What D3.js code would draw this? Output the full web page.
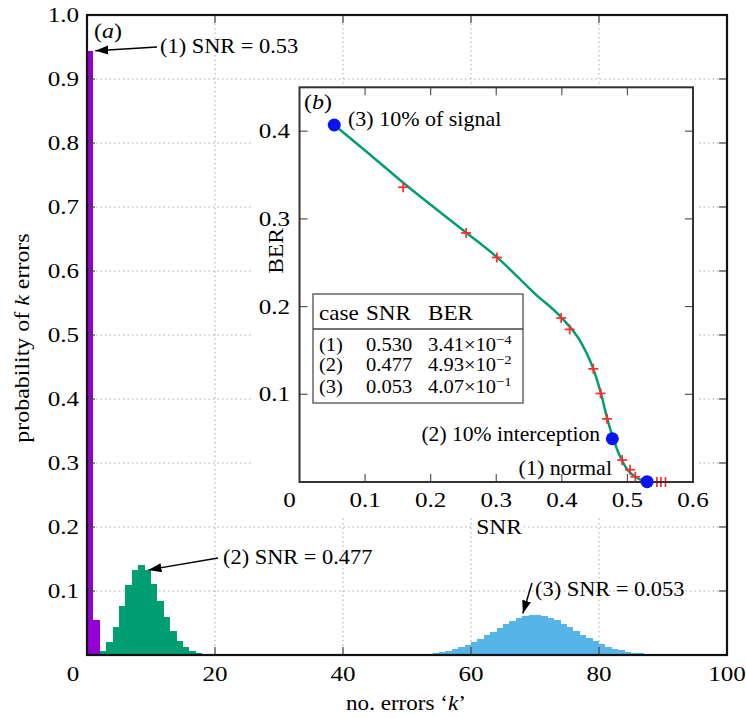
<!DOCTYPE html>
<html><head><meta charset="utf-8">
<script src="https://cdn.jsdelivr.net/npm/d3@7"></script>
<style>
body{margin:0;background:#fff;}
text{font-family:"Liberation Serif","Times New Roman",serif;fill:#000;}
</style>
</head><body>
<svg id="c" width="746" height="718"></svg>
<script>
// ---------- data ----------
const mainXTicks = [0, 20, 40, 60, 80, 100];
const mainYTicks = [0.1, 0.2, 0.3, 0.4, 0.5, 0.6, 0.7, 0.8, 0.9, 1.0];
const mainYTickLabels = ["0.1","0.2","0.3","0.4","0.5","0.6","0.7","0.8","0.9","1.0"];

const purpleK = [0, 1, 2];
const purpleP = [0.944, 0.055, 0.0016];

const greenK = [0,1,2,3,4,5,6,7,8,9,10,11,12,13,14,15,16,17,18,19,20];
const greenP = [0.0002,0.0016,0.0069,0.0201,0.0438,0.0758,0.1088,0.1330,0.1414,0.1328,0.1116,
                0.0847,0.0586,0.0371,0.0217,0.0118,0.0060,0.0028,0.0013,0.0005,0.0002];

const blueK = [48,49,50,51,52,53,54,55,56,57,58,59,60,61,62,63,64,65,66,67,68,69,
               70,71,72,73,74,75,76,77,78,79,80,81,82,83,84,85,86,87,88,89,90];
const blueP = [0.0002,0.0004,0.0006,0.0009,0.0015,0.0022,0.0033,0.0047,0.0066,0.0091,0.0122,
               0.0159,0.0203,0.0253,0.0308,0.0367,0.0425,0.0481,0.0531,0.0572,0.0602,0.0618,
               0.0620,0.0606,0.0579,0.0540,0.0491,0.0436,0.0378,0.0320,0.0264,0.0213,0.0168,
               0.0129,0.0096,0.0071,0.0050,0.0035,0.0024,0.0016,0.0010,0.0007,0.0004];

const annoText = ["(1) SNR = 0.53", "(2) SNR = 0.477", "(3) SNR = 0.053"];
const annoTipK = [1.3, 9.6, 68.1];
const annoTipP = [0.944, 0.133, 0.065];

const insetXTicks = [0, 0.1, 0.2, 0.3, 0.4, 0.5, 0.6];
const insetXTickLabels = ["0","0.1","0.2","0.3","0.4","0.5","0.6"];
const insetYTicks = [0.1, 0.2, 0.3, 0.4];
const insetYTickLabels = ["0.1","0.2","0.3","0.4"];

const lineSNR = [0.053,0.10,0.16,0.253,0.30,0.36,0.40,0.43,0.448,0.459,0.469,0.479,0.49,0.50,0.512,0.522,0.533];
const lineBER = [0.407,0.378,0.340,0.285,0.257,0.214,0.187,0.158,0.129,0.103,0.073,0.048,0.027,0.014,0.006,0.002,0.0003];

const markSNR = [0.158,0.254,0.301,0.399,0.412,0.448,0.459,0.469,0.492,0.504,0.512,0.545,0.551,0.558];
const markBER = [0.336,0.284,0.256,0.187,0.174,0.129,0.101,0.072,0.025,0.014,0.006,0,0,0];

const caseLabels = ["(1)", "(2)", "(3)"];
const caseSNR = ["0.530", "0.477", "0.053"];
const caseBERMant = ["3.41", "4.93", "4.07"];
const caseBERExp = ["\u22124", "\u22122", "\u22121"];
const caseSNRVal = [0.530, 0.477, 0.053];
const caseBERVal = [3.41e-4, 4.93e-2, 4.07e-1];
const caseDotText = ["(1) normal", "(2) 10% interception", "(3) 10% of signal"];

// ---------- colors ----------
const C_PURPLE = "#9400d3", C_GREEN = "#009e73", C_BLUE = "#56b4e9";
const FONT = "'Liberation Serif', 'Times New Roman', serif";

const svg = d3.select("#c");
svg.append("rect").attr("width", 746).attr("height", 718).attr("fill", "#fff");

const SX = 1.14;
function T(g, x, y, s, o = {}) {
  const size = o.size || 22, anchor = o.anchor || "start", rot = o.rot || 0, sx = o.sx || SX;
  const t = g.append("text")
    .attr("transform", `translate(${x},${y}) rotate(${rot}) scale(${sx},1)`)
    .attr("text-anchor", anchor)
    .attr("font-family", FONT)
    .style("font-size", size + "px");
  if (Array.isArray(s)) {
    s.forEach(p => {
      const ts = t.append("tspan").text(p.t);
      if (p.i) ts.style("font-style", "italic");
      if (p.dy) ts.attr("dy", p.dy);
      if (p.fs) ts.style("font-size", p.fs + "px");
    });
  } else t.text(s);
  return t;
}

// ---------- main scales ----------
const xM = d3.scaleLinear().domain([0, 100]).range([87, 727]);
const yM = d3.scaleLinear().domain([0, 1]).range([655, 15]);

// arrow marker
svg.append("defs").append("marker")
  .attr("id", "arr").attr("markerUnits", "userSpaceOnUse")
  .attr("markerWidth", 14).attr("markerHeight", 10)
  .attr("refX", 13).attr("refY", 4.5).attr("orient", "auto")
  .append("path").attr("d", "M0,0 L13,4.5 L0,9 Z").attr("fill", "#000");

// gridlines
const grid = svg.append("g").attr("stroke", "#a8a8a8").attr("stroke-width", 1).attr("stroke-dasharray", "1.5,3");
grid.selectAll("line.gy").data(mainYTicks.filter(v => v < 1)).join("line")
  .attr("x1", xM(0)).attr("x2", xM(100)).attr("y1", d => yM(d)).attr("y2", d => yM(d));
grid.selectAll("line.gx").data(mainXTicks.filter(v => v > 0 && v < 100)).join("line")
  .attr("y1", yM(0)).attr("y2", yM(1)).attr("x1", d => xM(d)).attr("x2", d => xM(d));

// histograms
function hist(ks, ps, color) {
  svg.append("g").attr("fill", color).attr("shape-rendering", "crispEdges")
    .selectAll("rect").data(ks.map((k, i) => [k, ps[i]])).join("rect")
    .attr("x", d => xM(d[0])).attr("width", d => xM(d[0] + 1) - xM(d[0]))
    .attr("y", d => yM(d[1])).attr("height", d => yM(0) - yM(d[1]));
}
hist(greenK, greenP, C_GREEN);
hist(blueK, blueP, C_BLUE);
hist(purpleK, purpleP, C_PURPLE);

// main ticks (inward, all sides)
const tk = svg.append("g").attr("stroke", "#444").attr("stroke-width", 1.2);
mainXTicks.filter(v => v > 0 && v < 100).forEach(v => {
  tk.append("line").attr("x1", xM(v)).attr("x2", xM(v)).attr("y1", yM(0)).attr("y2", yM(0) - 8);
  tk.append("line").attr("x1", xM(v)).attr("x2", xM(v)).attr("y1", yM(1)).attr("y2", yM(1) + 8);
});
mainYTicks.filter(v => v < 1).forEach(v => {
  tk.append("line").attr("x1", xM(0)).attr("x2", xM(0) + 8).attr("y1", yM(v)).attr("y2", yM(v));
  tk.append("line").attr("x1", xM(100)).attr("x2", xM(100) - 8).attr("y1", yM(v)).attr("y2", yM(v));
});
// frame
svg.append("rect").attr("x", xM(0)).attr("y", yM(1)).attr("width", xM(100) - xM(0)).attr("height", yM(0) - yM(1))
  .attr("fill", "none").attr("stroke", "#111").attr("stroke-width", 2.2);

// tick labels
const lab = svg.append("g");
mainXTicks.forEach(v => T(lab, xM(v) + (v === 0 ? -14 : 0), 681, String(v), { anchor: "middle" }));
mainYTicks.forEach((v, i) => T(lab, 79, yM(v) + 7, mainYTickLabels[i], { anchor: "end" }));

// axis labels
T(lab, 406, 710, [{ t: "no. errors \u2018" }, { t: "k", i: true }, { t: "\u2019" }], { anchor: "middle", size: 21, sx: 1.1 });
T(lab, 29, 338, [{ t: "probability of " }, { t: "k", i: true }, { t: " errors" }], { anchor: "middle", rot: -90, size: 21, sx: 1.14 });

// (a)
T(lab, 94, 38, [{ t: "(" }, { t: "a", i: true }, { t: ")" }], { size: 21 });

// annotations
const annoX = [160, 223, 535], annoY = [53, 564, 596];
const arrStart = [[157, 47], [218, 558], [532, 583]];
annoText.forEach((s, i) => {
  T(lab, annoX[i], annoY[i], s, { size: 20, sx: 1.12 });
  svg.append("line").attr("x1", arrStart[i][0]).attr("y1", arrStart[i][1])
    .attr("x2", xM(annoTipK[i])).attr("y2", yM(annoTipP[i]))
    .attr("stroke", "#000").attr("stroke-width", 1.5).attr("marker-end", "url(#arr)");
});

// ---------- inset ----------
const ins = svg.append("g");
ins.append("rect").attr("x", 252).attr("y", 84).attr("width", 445).attr("height", 434).attr("fill", "#fff");

const xI = d3.scaleLinear().domain([0, 0.6]).range([299.5, 693]);
const yI = d3.scaleLinear().domain([0, 0.45]).range([482, 87.3]);

const itk = ins.append("g").attr("stroke", "#555").attr("stroke-width", 1.2);
insetXTicks.filter(v => v > 0 && v < 0.6).forEach(v => {
  itk.append("line").attr("x1", xI(v)).attr("x2", xI(v)).attr("y1", yI(0)).attr("y2", yI(0) - 8);
  itk.append("line").attr("x1", xI(v)).attr("x2", xI(v)).attr("y1", yI(0.45)).attr("y2", yI(0.45) + 8);
});
insetYTicks.forEach(v => {
  itk.append("line").attr("x1", xI(0)).attr("x2", xI(0) + 8).attr("y1", yI(v)).attr("y2", yI(v));
  itk.append("line").attr("x1", xI(0.6)).attr("x2", xI(0.6) - 8).attr("y1", yI(v)).attr("y2", yI(v));
});

// table
const tb = ins.append("g");
tb.append("rect").attr("x", 313).attr("y", 294).attr("width", 210).attr("height", 109)
  .attr("fill", "#fff").attr("stroke", "#666").attr("stroke-width", 1.5);
tb.append("line").attr("x1", 313).attr("x2", 523).attr("y1", 329).attr("y2", 329)
  .attr("stroke", "#444").attr("stroke-width", 1.5);
T(tb, 319, 320, "case", { size: 21, sx: 1.1 });
T(tb, 366, 320, "SNR", { size: 21, sx: 1.1 });
T(tb, 428, 320, "BER", { size: 21, sx: 1.1 });
const rowY = [351, 371, 393];
caseLabels.forEach((c, i) => {
  T(tb, 319, rowY[i], c, { size: 18, sx: 1.14 });
  T(tb, 366, rowY[i], caseSNR[i], { size: 18, sx: 1.14 });
  T(tb, 428, rowY[i], [{ t: caseBERMant[i] + "\u00d710" }, { t: caseBERExp[i], dy: -7, fs: 13 }], { size: 18, sx: 1.14 });
});

// line
ins.append("path")
  .datum(lineSNR.map((s, i) => [s, lineBER[i]]))
  .attr("fill", "none").attr("stroke", C_GREEN).attr("stroke-width", 2.5)
  .attr("d", d3.line().x(d => xI(d[0])).y(d => yI(d[1])).curve(d3.curveMonotoneX));

// red plus markers
const mk = ins.append("g").attr("stroke", "#ff2a2a").attr("stroke-width", 1.7);
markSNR.forEach((s, i) => {
  const px = xI(s), py = yI(markBER[i]);
  mk.append("line").attr("x1", px - 5).attr("x2", px + 5).attr("y1", py).attr("y2", py);
  mk.append("line").attr("x1", px).attr("x2", px).attr("y1", py - 5).attr("y2", py + 5);
});

// frame
ins.append("rect").attr("x", xI(0)).attr("y", yI(0.45)).attr("width", xI(0.6) - xI(0)).attr("height", yI(0) - yI(0.45))
  .attr("fill", "none").attr("stroke", "#333").attr("stroke-width", 2);

// blue dots
ins.selectAll("circle").data(caseSNRVal.map((s, i) => [s, caseBERVal[i]])).join("circle")
  .attr("cx", d => xI(d[0])).attr("cy", d => yI(d[1])).attr("r", 6.5).attr("fill", "#0a14f0");

// inset tick labels
insetXTicks.forEach((v, i) => T(ins, xI(v) + (v === 0 ? -10 : 0), 507, insetXTickLabels[i], { anchor: "middle" }));
insetYTicks.forEach((v, i) => T(ins, 290, yI(v) + 7, insetYTickLabels[i], { anchor: "end" }));
T(ins, 283, 251, "BER", { anchor: "middle", rot: -90, size: 21, sx: 1.12 });
ins.append("rect").attr("x", 474).attr("y", 517).attr("width", 50).attr("height", 20).attr("fill", "#fff");
T(ins, 499, 534, "SNR", { anchor: "middle", size: 21, sx: 1.12 });
T(ins, 304, 109, [{ t: "(" }, { t: "b", i: true }, { t: ")" }], { size: 21 });

// dot annotations
T(ins, 348, 126, caseDotText[2], { size: 20, sx: 1.1 });
T(ins, 600, 441, caseDotText[1], { size: 20, sx: 1.08, anchor: "end" });
T(ins, 612, 475, caseDotText[0], { size: 20, sx: 1.1, anchor: "end" });
</script>
</body></html>
